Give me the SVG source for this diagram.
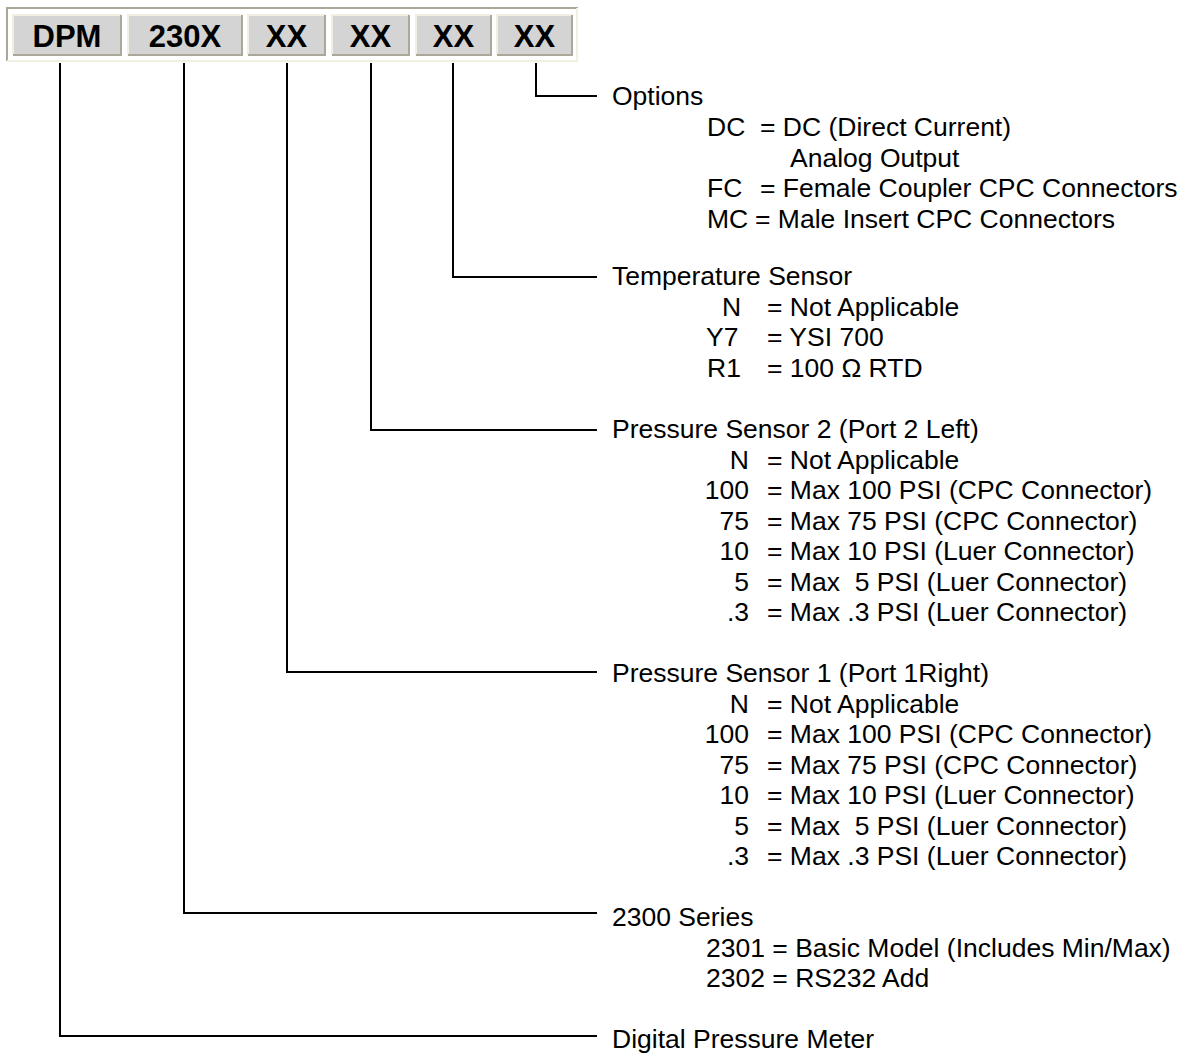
<svg xmlns="http://www.w3.org/2000/svg" width="1192" height="1053" viewBox="0 0 1192 1053">
<style>
.t{font-family:"Liberation Sans",Arial,sans-serif;font-size:26.5px;fill:#000}
.h{font-family:"Liberation Sans",Arial,sans-serif;font-size:31px;font-weight:bold;fill:#000;text-anchor:middle}
.c{fill:#d4d4d4}
.lt{stroke:#f1efe2;stroke-width:2;fill:none}
.dk{stroke:#aca899;stroke-width:2;fill:none}
.e{text-anchor:end}
.ln{stroke:#000;stroke-width:2;fill:none}
</style>
<rect width="1192" height="1053" fill="#fff"/>
<g id="header">
<path class="dk" d="M7,61 V8 H578"/>
<path class="lt" d="M7,61 H577 V8"/>
</g>
<g id="cell-dpm">
<rect class="c" x="13" y="15" width="108" height="40"/>
<path class="lt" d="M13,55 V15 H121"/><path class="dk" d="M13,55 H121 V15"/>
<text class="h" x="67" y="47">DPM</text>
</g>
<g id="cell-230x">
<rect class="c" x="128" y="15" width="114" height="40"/>
<path class="lt" d="M128,55 V15 H242"/><path class="dk" d="M128,55 H242 V15"/>
<text class="h" x="185" y="47">230X</text>
</g>
<g id="cell-xx1">
<rect class="c" x="248" y="15" width="77" height="40"/>
<path class="lt" d="M248,55 V15 H325"/><path class="dk" d="M248,55 H325 V15"/>
<text class="h" x="286.5" y="47">XX</text>
</g>
<g id="cell-xx2">
<rect class="c" x="332" y="15" width="77" height="40"/>
<path class="lt" d="M332,55 V15 H409"/><path class="dk" d="M332,55 H409 V15"/>
<text class="h" x="370.5" y="47">XX</text>
</g>
<g id="cell-xx3">
<rect class="c" x="416" y="15" width="75" height="40"/>
<path class="lt" d="M416,55 V15 H491"/><path class="dk" d="M416,55 H491 V15"/>
<text class="h" x="453.5" y="47">XX</text>
</g>
<g id="cell-xx4">
<rect class="c" x="497" y="15" width="75" height="40"/>
<path class="lt" d="M497,55 V15 H572"/><path class="dk" d="M497,55 H572 V15"/>
<text class="h" x="534.5" y="47">XX</text>
</g>
<g id="connectors">
<path class="ln" d="M536,63 V96 H597"/>
<path class="ln" d="M453,63 V277 H597"/>
<path class="ln" d="M371,63 V430 H597"/>
<path class="ln" d="M287,63 V672 H597"/>
<path class="ln" d="M184,63 V913 H597"/>
<path class="ln" d="M60,63 V1036 H597"/>
</g>
<g id="options">
<text class="t" x="612" y="105">Options</text>
<text class="t" x="707" y="136">DC</text><text class="t" x="760" y="136">= DC (Direct Current)</text>
<text class="t" x="790" y="166.5">Analog Output</text>
<text class="t" x="707" y="197">FC</text><text class="t" x="760" y="197">= Female Coupler CPC Connectors</text>
<text class="t" x="707" y="227.5">MC</text><text class="t" x="755" y="227.5">= Male Insert CPC Connectors</text>
</g>
<g id="temperature-sensor">
<text class="t" x="612" y="285">Temperature Sensor</text>
<text class="t" x="722" y="315.5">N</text><text class="t" x="767" y="315.5">= Not Applicable</text>
<text class="t" x="706" y="346">Y7</text><text class="t" x="767" y="346">= YSI 700</text>
<text class="t" x="707" y="376.5">R1</text><text class="t" x="767" y="376.5">= 100 Ω RTD</text>
</g>
<g id="pressure-sensor-2">
<text class="t" x="612" y="438">Pressure Sensor 2 (Port 2 Left)</text>
<text class="t e" x="749" y="468.5">N</text><text class="t" x="767" y="468.5">= Not Applicable</text>
<text class="t e" x="749" y="499">100</text><text class="t" x="767" y="499">= Max 100 PSI (CPC Connector)</text>
<text class="t e" x="749" y="529.5">75</text><text class="t" x="767" y="529.5">= Max 75 PSI (CPC Connector)</text>
<text class="t e" x="749" y="560">10</text><text class="t" x="767" y="560">= Max 10 PSI (Luer Connector)</text>
<text class="t e" x="749" y="590.5">5</text><text class="t" x="767" y="590.5" xml:space="preserve">= Max  5 PSI (Luer Connector)</text>
<text class="t e" x="749" y="621">.3</text><text class="t" x="767" y="621">= Max .3 PSI (Luer Connector)</text>
</g>
<g id="pressure-sensor-1">
<text class="t" x="612" y="682">Pressure Sensor 1 (Port 1Right)</text>
<text class="t e" x="749" y="712.5">N</text><text class="t" x="767" y="712.5">= Not Applicable</text>
<text class="t e" x="749" y="743">100</text><text class="t" x="767" y="743">= Max 100 PSI (CPC Connector)</text>
<text class="t e" x="749" y="773.5">75</text><text class="t" x="767" y="773.5">= Max 75 PSI (CPC Connector)</text>
<text class="t e" x="749" y="804">10</text><text class="t" x="767" y="804">= Max 10 PSI (Luer Connector)</text>
<text class="t e" x="749" y="834.5">5</text><text class="t" x="767" y="834.5" xml:space="preserve">= Max  5 PSI (Luer Connector)</text>
<text class="t e" x="749" y="865">.3</text><text class="t" x="767" y="865">= Max .3 PSI (Luer Connector)</text>
</g>
<g id="series-2300">
<text class="t" x="612" y="926">2300 Series</text>
<text class="t" x="706" y="956.5">2301 = Basic Model (Includes Min/Max)</text>
<text class="t" x="706" y="987">2302 = RS232 Add</text>
</g>
<g id="digital-pressure-meter">
<text class="t" x="612" y="1048">Digital Pressure Meter</text>
</g>
</svg>
